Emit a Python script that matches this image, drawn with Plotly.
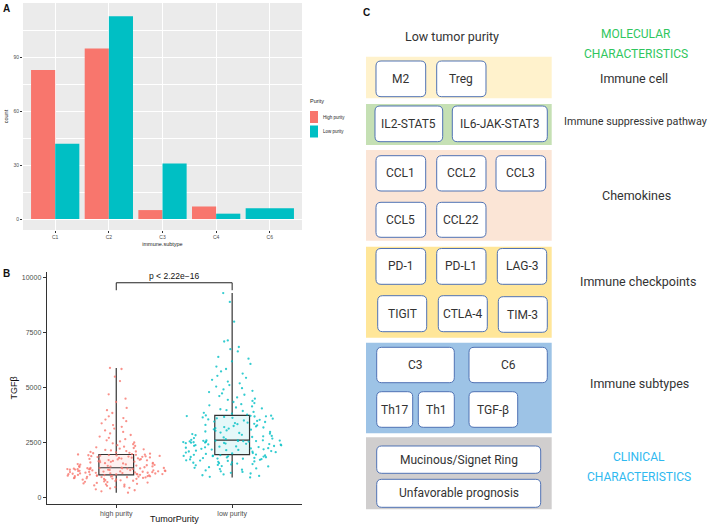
import plotly.graph_objects as go

W, H = 709, 525

# ---------------- data ----------------
subtypes = ["C1", "C2", "C3", "C4", "C6"]
high_counts = [83, 95, 5, 7, None]
low_counts = [42, 113, 31, 3, 6]

purity_groups = ["high purity", "low purity"]
tgfb_high = [230, 290, 340, 380, 420, 450, 480, 510, 540, 560, 590, 610, 630, 650, 670, 690, 710, 720, 740,
             760, 770, 790, 800, 820, 830, 850, 860, 870, 880, 890, 900, 910, 920, 930, 940, 950, 955, 960,
             970, 975, 980, 990, 995, 1000, 1010, 1015, 1025,
             1035, 1040, 1050, 1055, 1060, 1070, 1075, 1080, 1090, 1100, 1105, 1110, 1120, 1130, 1135, 1140,
             1150, 1160, 1165, 1170, 1180, 1190, 1195, 1200, 1210, 1215, 1220, 1230, 1240, 1245, 1250, 1260,
             1270, 1275, 1280, 1290, 1295, 1300, 1305, 1310, 1320, 1325, 1330, 1335, 1340, 1345, 1350, 1355,
             1370, 1385, 1395, 1410, 1420, 1435, 1450, 1460, 1475, 1490, 1500, 1515, 1530, 1545, 1560, 1570,
             1585, 1600, 1615, 1630, 1640, 1655, 1670, 1685, 1700, 1710, 1725, 1740, 1750, 1765, 1780, 1790,
             1805, 1820, 1830, 1845, 1860, 1870, 1880, 1890, 1900, 1910, 1920, 1930, 1940, 1950, 1960, 1965,
             1985, 2000, 2020, 2040, 2060, 2080, 2100, 2120, 2150, 2170, 2200, 2230, 2260, 2290, 2320, 2350,
             2390, 2430, 2470, 2510, 2560, 2610, 2660, 2720, 2780, 2850, 2920, 2990, 3060, 3140, 3220, 3300,
             3380, 3480, 3550, 3620, 3700, 3850, 3980, 4080, 4350, 4500, 4700, 5300, 5500, 5850, 5900]
tgfb_low = [920, 950, 990, 1020, 1060, 1100, 1130, 1170, 1200, 1240, 1270, 1300, 1330, 1360, 1390, 1420, 1440,
            1470, 1490, 1510, 1530, 1550, 1570, 1590, 1610, 1630, 1650, 1670, 1690, 1700, 1720, 1740, 1750,
            1770, 1780, 1800, 1810, 1830, 1840, 1850, 1870, 1880, 1890, 1900, 1910, 1920, 1935, 1950, 1960,
            1990, 2010, 2030, 2050, 2070, 2090, 2100, 2120, 2140, 2160, 2170, 2190, 2200, 2220, 2240, 2250,
            2270, 2290, 2300, 2320, 2330, 2350, 2360, 2380, 2390, 2410, 2420, 2440, 2450, 2460, 2480, 2490,
            2500, 2510, 2520, 2530, 2540, 2550, 2560, 2570, 2575, 2580, 2585, 2590, 2595, 2600, 2605, 2610,
            2630, 2660, 2690, 2710, 2740, 2760, 2790, 2810, 2840, 2860, 2890, 2910, 2940, 2960, 2990, 3010,
            3040, 3060, 3090, 3110, 3140, 3160, 3190, 3210, 3240, 3260, 3290, 3310, 3340, 3360, 3390, 3410,
            3440, 3460, 3490, 3510, 3540, 3560, 3590, 3610, 3630, 3650, 3670, 3690, 3700, 3710, 3720, 3730, 3740,
            3780, 3820, 3860, 3900, 3940, 3980, 4020, 4060, 4100, 4150, 4200, 4250, 4300, 4350, 4400, 4450,
            4500, 4560, 4620, 4680, 4740, 4800, 4860, 4920, 4980, 5050, 5120, 5200, 5280, 5360, 5450, 5540,
            5640, 5740, 5850, 5960, 6080, 6200, 6320, 6400, 6650, 6750, 6850, 7100, 7150, 8000, 8900, 9300]
tgfb_ticks = [0, 2500, 5000, 7500, 10000]
p_label = "p < 2.22e\u221216"

RED, CYAN = "#F8766D", "#00BFC4"

# ---------------- figure ----------------
fig = go.Figure()

# Panel A bars
fig.add_trace(go.Bar(x=subtypes, y=high_counts, marker=dict(color=RED, line=dict(width=0)),
                     width=0.45, offset=-0.45, xaxis="x", yaxis="y", showlegend=False))
fig.add_trace(go.Bar(x=subtypes, y=low_counts, marker=dict(color=CYAN, line=dict(width=0)),
                     width=[0.45, 0.45, 0.45, 0.45, 0.9], offset=[0, 0, 0, 0, -0.45],
                     xaxis="x", yaxis="y", showlegend=False))

# Panel B boxes + points
for vals, grp, col, fill in [(tgfb_high, purity_groups[0], RED, "rgba(248,118,109,0.10)"),
                             (tgfb_low, purity_groups[1], CYAN, "rgba(0,191,196,0.10)")]:
    fig.add_trace(go.Box(y=vals, x=[grp] * len(vals), boxpoints=False, width=0.3,
                         line=dict(color="#333333", width=1.2), fillcolor=fill,
                         xaxis="x2", yaxis="y2", showlegend=False, whiskerwidth=0))
    fig.add_trace(go.Box(y=vals, x=[grp] * len(vals), boxpoints="all", jitter=1, pointpos=0,
                         width=0.85, line=dict(color="rgba(0,0,0,0)", width=0),
                         fillcolor="rgba(0,0,0,0)",
                         marker=dict(color=col, size=2.3, opacity=0.8),
                         xaxis="x2", yaxis="y2", showlegend=False))


def px(x):
    return x / W


def py(y):
    return 1 - y / H


tick_font_a = dict(size=5, color="#4D4D4D", family="Liberation Sans, Arial")
fig.update_layout(
    width=W, height=H, margin=dict(l=0, r=0, t=0, b=0),
    paper_bgcolor="white", plot_bgcolor="white",
    barmode="overlay", boxmode="overlay",
    font=dict(family="Liberation Sans, Arial", color="#333333"),
    xaxis=dict(domain=[px(23), px(302)], anchor="y", type="category", categoryarray=subtypes,
               range=[-0.6, 4.6], showgrid=True, gridcolor="white", gridwidth=1,
               ticks="outside", ticklen=2, tickcolor="#333333", tickfont=tick_font_a,
               title=dict(text="immune.subtype", font=dict(size=5.5, color="#222"), standoff=3),
               zeroline=False, showline=False),
    yaxis=dict(domain=[py(230), py(3)], anchor="x", range=[-6.1, 120.4], tickvals=[0, 30, 60, 90],
               showgrid=True, gridcolor="white", gridwidth=1,
               minor=dict(tickvals=[15, 45, 75, 105], showgrid=True, gridcolor="white", gridwidth=0.5),
               ticks="outside", ticklen=2, tickcolor="#333333", tickfont=tick_font_a,
               title=dict(text="count", font=dict(size=5.5, color="#222"), standoff=4),
               zeroline=False, showline=False),
    xaxis2=dict(domain=[px(46.7), px(301.7)], anchor="y2", type="category", categoryarray=purity_groups,
                range=[-0.6, 1.6], showgrid=False, showline=True, linecolor="#333333", linewidth=1,
                ticks="outside", ticklen=3, tickcolor="#333333",
                tickfont=dict(size=7, color="#4D4D4D"),
                zeroline=False),
    yaxis2=dict(domain=[py(504), py(272)], anchor="x2", range=[-286, 10259], tickvals=tgfb_ticks,
                ticktext=[str(v) for v in tgfb_ticks],
                showgrid=False, showline=True, linecolor="#333333", linewidth=1,
                ticks="outside", ticklen=3, tickcolor="#333333",
                tickfont=dict(size=7, color="#4D4D4D"),
                title=dict(text="TGF\u03b2", font=dict(size=9, color="#111"), standoff=2),
                zeroline=False),
)

shapes = []
annotations = []

# Panel A background
shapes.append(dict(type="rect", xref="paper", yref="paper", x0=px(23), x1=px(302), y0=py(230), y1=py(3),
                   fillcolor="#EBEBEB", line=dict(width=0), layer="below"))

# Panel A legend
annotations.append(dict(x=px(308), y=py(101), xref="paper", yref="paper", text="Purity", showarrow=False,
                        xanchor="left", yanchor="middle", font=dict(size=5.5, color="#222")))
for i, (lab, col) in enumerate([("High purity", RED), ("Low purity", CYAN)]):
    y0 = 111 + i * 14.5
    shapes.append(dict(type="rect", xref="paper", yref="paper", x0=px(310), x1=px(318), y0=py(y0 + 12), y1=py(y0),
                       fillcolor=col, line=dict(width=0)))
    annotations.append(dict(x=px(321), y=py(y0 + 6), xref="paper", yref="paper", text=lab, showarrow=False,
                            xanchor="left", yanchor="middle", font=dict(size=4.5, color="#222")))

# Panel B x title, bracket and p-value
annotations.append(dict(x=px(174), y=py(519), xref="paper", yref="paper", text="TumorPurity", showarrow=False,
                        xanchor="center", yanchor="middle", font=dict(size=9, color="#111")))
shapes.append(dict(type="path", xref="x2", yref="y2",
                   path="M 0,9430 L 0,9770 L 1,9770 L 1,9430", line=dict(color="#222222", width=1)))
annotations.append(dict(x=0.5, y=9770, xref="x2", yref="y2", text=p_label, showarrow=False,
                        yanchor="bottom", yshift=0, font=dict(size=8.5, color="#111")))

# Panel labels
for lab, x, y in [("A", 6, 8), ("B", 6, 273), ("C", 366, 12)]:
    annotations.append(dict(x=px(x), y=py(y), xref="paper", yref="paper", text="<b>%s</b>" % lab,
                            showarrow=False, xanchor="center", yanchor="middle",
                            font=dict(size=10, color="#111", family="Liberation Sans, Arial")))

# ---------------- Panel C diagram ----------------
NARROW = "Roboto, sans-serif"
bands = [(56.7, 98.3, "#FFF2CC"), (104, 145, "#C5E0B4"), (150, 240.7, "#FBE5D6"),
         (246.7, 337.7, "#FFE699"), (342.7, 433.3, "#9DC3E6"), (437.3, 509.3, "#D0CECE")]
for y0, y1, col in bands:
    shapes.append(dict(type="rect", xref="paper", yref="paper", x0=px(366), x1=px(551.7), y0=py(y1), y1=py(y0),
                       fillcolor=col, line=dict(width=0), layer="below"))


def rrect(x0, y0, x1, y1, r=5):
    pts = [("M", x0 + r, y0), ("L", x1 - r, y0), ("Q", x1, y0, x1, y0 + r), ("L", x1, y1 - r),
           ("Q", x1, y1, x1 - r, y1), ("L", x0 + r, y1), ("Q", x0, y1, x0, y1 - r), ("L", x0, y0 + r),
           ("Q", x0, y0, x0 + r, y0)]
    s = []
    for p in pts:
        cmd = p[0]
        coords = p[1:]
        cs = []
        for i in range(0, len(coords), 2):
            cs.append("%.5f,%.5f" % (px(coords[i]), py(coords[i + 1])))
        s.append(cmd + " " + " ".join(cs))
    return " ".join(s) + " Z"


boxes = [
    ("M2", 376, 61, 425.7, 96.7), ("Treg", 436.7, 61, 486, 96.7),
    ("IL2-STAT5", 375, 106, 442.7, 141.7), ("IL6-JAK-STAT3", 452.3, 106, 547.3, 141.7),
    ("CCL1", 376, 155.7, 425.7, 191), ("CCL2", 436.7, 155.7, 486, 191), ("CCL3", 496, 155.7, 545.7, 191),
    ("CCL5", 376, 202.3, 425.7, 237.3), ("CCL22", 436.7, 202.3, 486, 237.3),
    ("PD-1", 376, 248.5, 425.7, 284.3), ("PD-L1", 436.7, 248.5, 486, 284.3), ("LAG-3", 497.3, 248.5, 546.7, 284.3),
    ("TIGIT", 377.7, 295.7, 426.7, 331.7), ("CTLA-4", 438.3, 295.7, 487.3, 331.7), ("TIM-3", 498.3, 296.7, 547.3, 332.3),
    ("C3", 376.7, 347.3, 454.3, 382.7), ("C6", 469, 347.3, 547.3, 382.7),
    ("Th17", 376.7, 391.7, 412.7, 427.3), ("Th1", 418.3, 391.7, 454.3, 427.3), ("TGF-\u03b2", 469, 391.7, 517.7, 427.3),
    ("Mucinous/Signet Ring", 376.7, 446, 540.7, 473.3), ("Unfavorable prognosis", 376.7, 479.3, 540.7, 507.3),
]
for lab, x0, y0, x1, y1 in boxes:
    shapes.append(dict(type="path", xref="paper", yref="paper", path=rrect(x0, y0, x1, y1, 5),
                       fillcolor="white", line=dict(color="#4F72B4", width=1)))
    annotations.append(dict(x=px((x0 + x1) / 2), y=py((y0 + y1) / 2), xref="paper", yref="paper", text=lab,
                            showarrow=False, xanchor="center", yanchor="middle",
                            font=dict(size=12, color="#333333", family=NARROW)))

side = [("Low tumor purity", 451.7, 36.7, "#333333", 12.5),
        ("MOLECULAR", 636, 34, "#2FC65E", 12), ("CHARACTERISTICS", 636, 54, "#2FC65E", 12),
        ("Immune cell", 634, 79, "#333333", 12.5), ("Immune suppressive pathway", 635, 121, "#333333", 10.8),
        ("Chemokines", 636, 195, "#333333", 12.5), ("Immune checkpoints", 638, 281, "#333333", 12.5),
        ("Immune subtypes", 639, 383, "#333333", 12.5),
        ("CLINICAL", 639, 457, "#2FB9F0", 12), ("CHARACTERISTICS", 639, 477, "#2FB9F0", 12)]
for lab, x, y, col, sz in side:
    annotations.append(dict(x=px(x), y=py(y), xref="paper", yref="paper", text=lab, showarrow=False,
                            xanchor="center", yanchor="middle", font=dict(size=sz, color=col, family=NARROW)))

fig.update_layout(shapes=shapes, annotations=annotations)
fig.write_html("out.html", config={"displayModeBar": False},
               post_script="document.body.style.margin='0';document.body.style.overflow='hidden';")
